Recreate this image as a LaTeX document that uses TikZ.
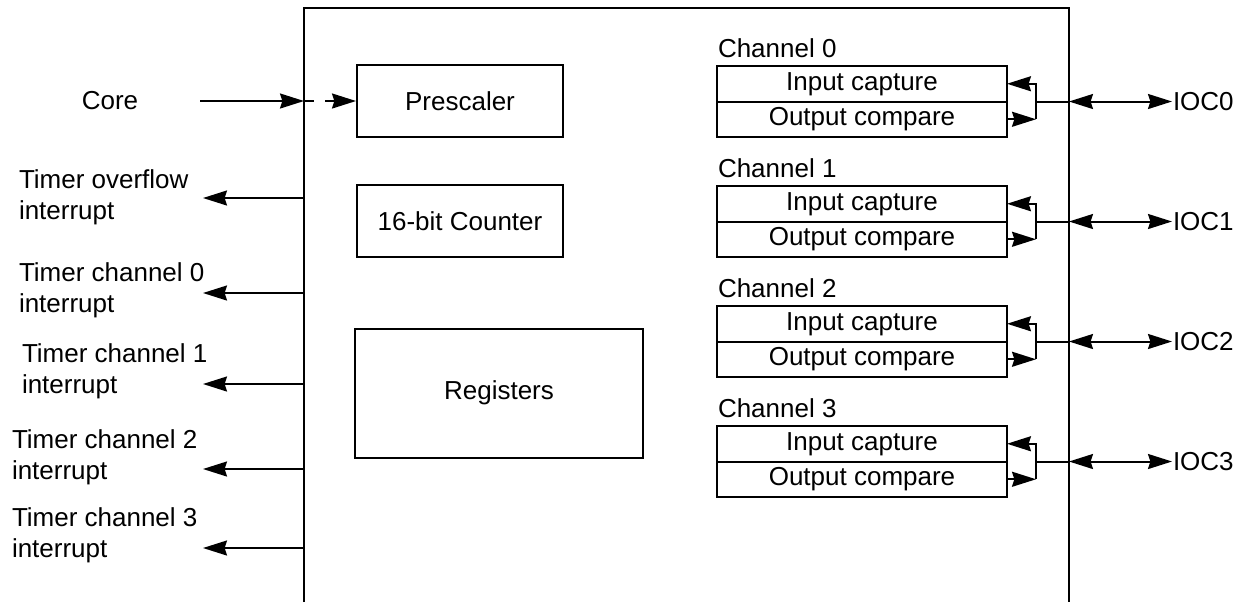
\documentclass[tikz,border=0pt]{standalone}
\usepackage{fontspec}
\setmainfont{Liberation Sans}
\usetikzlibrary{positioning,arrows.meta}

\begin{document}
\begin{tikzpicture}[
  x=0.5pt,y=-0.5pt,
  font=\fontsize{13pt}{15.5pt}\selectfont,
  line width=1pt,
  blk/.style={draw,line width=1pt,minimum width=103pt,minimum height=36pt,inner sep=0pt},
  cell/.style={draw,line width=1pt,minimum width=145pt,minimum height=17.75pt,inner sep=0pt,outer sep=0pt},
  lbl/.style={inner sep=0pt,align=left},
  arr/.style={-{Stealth[length=12pt,width=7.5pt,inset=1.2pt]}},
  dbl/.style={{Stealth[length=12pt,width=7.5pt,inset=1.2pt]}-{Stealth[length=12pt,width=7.5pt,inset=1.2pt]}}]
\useasboundingbox (0,0) rectangle (1243,602);

% timer module frame, open at the bottom
\coordinate (fr-nw) at (304,8);
\coordinate (fr-ne) at (1069,8);
\draw (304,602) -- (fr-nw) -- (fr-ne) -- (1069,602);

\node (core) at (110,101) {Core};
\coordinate (clk-in) at (200,101);
\coordinate (clk-edge) at (304,101);
\node[blk] (pre) at (460,101) {Prescaler};
\node[blk] (cnt) at (460,221) {16-bit Counter};
\node[blk,minimum width=144pt,minimum height=64.5pt] (reg) at (499,393) {Registers};
\draw[arr] (clk-in) -- (clk-edge);
\draw[arr,dash pattern=on 5pt off 5.5pt on 30pt] (clk-edge) -- (pre);

% capture/compare channels
\foreach \i in {0,...,3}{
  \pgfmathsetmacro{\cy}{66+120*\i}
  \node[cell,anchor=north west] (ic\i) at (717,\cy) {Input capture};
  \node[cell,below=0pt of ic\i] (oc\i) {Output compare};
  \node[lbl,anchor=base west] (ch\i) at ([yshift=4.5pt]ic\i.north west) {Channel \i};
  \coordinate (fk\i) at (1036,\cy+35.5);
  \node[lbl,anchor=west] (ioc\i) at (1172,\cy+35.5) {IOC\i};
  \draw[arr] (oc\i.east -| fk\i) |- (ic\i.east);
  \draw[arr] (oc\i.east) -- (oc\i.east -| fk\i);
  \draw (fk\i) -- (fk\i -| fr-ne);
  \draw[dbl] (fk\i -| fr-ne) -- (ioc\i.west);
}

% interrupt outputs
\node[lbl,anchor=north west] (ovf) at (18,169) {Timer overflow\\interrupt};
\node[lbl,anchor=north west] (irq0) at (18,262) {Timer channel 0\\interrupt};
\node[lbl,anchor=north west] (irq1) at (21,343) {Timer channel 1\\interrupt};
\node[lbl,anchor=north west] (irq2) at (11,429) {Timer channel 2\\interrupt};
\node[lbl,anchor=north west] (irq3) at (11,507) {Timer channel 3\\interrupt};
\foreach \n/\y in {ovf/198,irq0/293,irq1/384,irq2/469,irq3/548}{
  \coordinate (\n-out) at (304,\y);
  \coordinate (\n-tip) at (203,\y);
  \draw[arr] (\n-out) -- (\n-tip);
}
\end{tikzpicture}
\end{document}
